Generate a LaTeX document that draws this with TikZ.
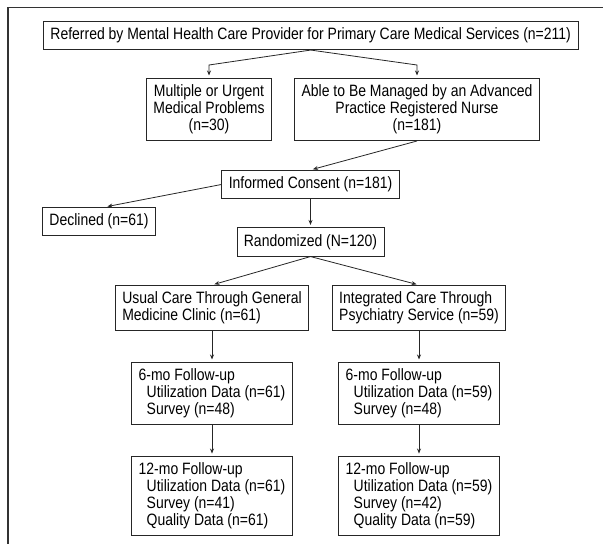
\documentclass[tikz,border=0pt]{standalone}
\usepackage{fontspec}
\setmainfont{Liberation Sans}[FakeStretch=0.85]
\usetikzlibrary{arrows.meta}

\tikzset{
  box/.style={draw=black!85, line width=0.8bp, inner xsep=7bp, inner ysep=6.5bp,
    font=\fontsize{16.5}{17}\selectfont},
  arr/.style={draw=black!85, line width=0.8bp, -{Stealth[length=5bp,width=4bp]}, shorten >=2.5bp}
}

\begin{document}
\begin{tikzpicture}[x=1bp,y=-1bp]
        \useasboundingbox (0,0) rectangle (603,544);
        \draw[line width=1.2bp, black!80] (8,544) -- (8,7.5) -- (603,7.5);
        \node[box] (ref) at (310.7,35.5) {Referred by Mental Health Care Provider for Primary Care Medical Services (n=211)};
        \node[box, align=center] (urgent) at (209,109.5) {Multiple or Urgent\\Medical Problems\\(n=30)};
        \node[box, align=center] (nurse) at (417,109.5) {Able to Be Managed by an Advanced\\Practice Registered Nurse\\(n=181)};
        \node[box] (consent) at (310.5,184.5) {Informed Consent (n=181)};
	\node[box] (declined) at (99,221.5) {Declined (n=61)};
        \node[box] (random) at (310.5,242) {Randomized (N=120)};
        \node[box, align=left] (usual) at (212,308) {Usual Care Through General\\Medicine Clinic (n=61)};
        \node[box, align=left] (integr) at (419,308) {Integrated Care Through\\Psychiatry Service (n=59)};
        \node[box, align=left] (sixu) at (212,393.5) {6-mo Follow-up\\\hspace*{8bp}Utilization Data (n=61)\\\hspace*{8bp}Survey (n=48)};
        \node[box, align=left] (sixi) at (419,393.5) {6-mo Follow-up\\\hspace*{8bp}Utilization Data (n=59)\\\hspace*{8bp}Survey (n=48)};
        \node[box, align=left] (twelveu) at (212,496) {12-mo Follow-up\\\hspace*{8bp}Utilization Data (n=61)\\\hspace*{8bp}Survey (n=41)\\\hspace*{8bp}Quality Data (n=61)};
	\node[box, align=left] (twelvei) at (419,496) {12-mo Follow-up\\\hspace*{8bp}Utilization Data (n=59)\\\hspace*{8bp}Survey (n=42)\\\hspace*{8bp}Quality Data (n=59)};
        \draw[arr] (ref.south) -- ([yshift=13bp]urgent.north) -- (urgent.north);
        \draw[arr] (ref.south) -- ([yshift=13bp]nurse.north) -- (nurse.north);
        \draw[arr] (nurse.south) -- (consent.north);
        \draw[arr] (consent.west) -- ([xshift=6bp]declined.north);
        \draw[arr] (consent.south) -- (random.north);
        \draw[arr] (random.south) -- (usual.north);
        \draw[arr] (random.south) -- (integr.north);
        \draw[arr] (usual.south) -- (sixu.north);
	\draw[arr] (integr.south) -- (sixi.north);
        \draw[arr] (sixu.south) -- (twelveu.north);
        \draw[arr] (sixi.south) -- (twelvei.north);
    \end{tikzpicture}
\end{document}
